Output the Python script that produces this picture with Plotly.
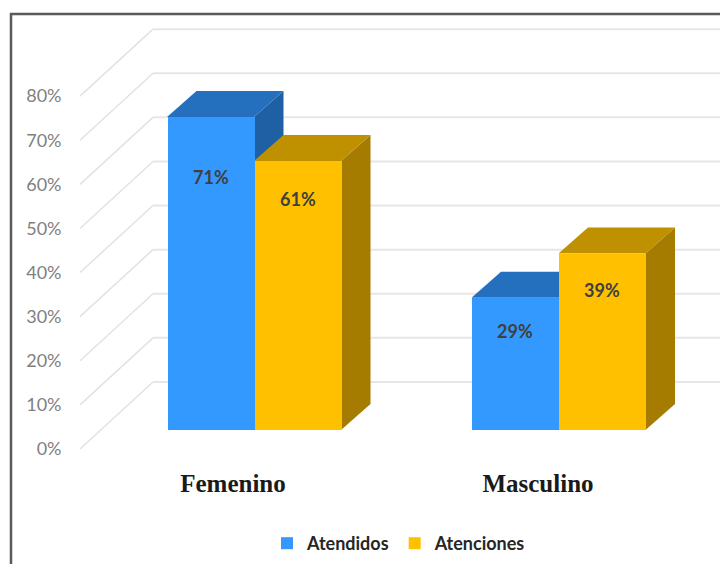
import plotly.graph_objects as go

# Data
categories = ["Femenino", "Masculino"]
atendidos_heights = [71, 30]      # heights as drawn in the picture
atenciones_heights = [61, 40]
atendidos_labels = ["71%", "29%"]
atenciones_labels = ["61%", "39%"]
tick_values = [0, 10, 20, 30, 40, 50, 60, 70, 80]
tick_labels = ["0%", "10%", "20%", "30%", "40%", "50%", "60%", "70%", "80%"]

# Layout / styling
W, H = 720, 564
PX_PER_PCT = 4.41
BASE_PX = 430
GROUP_CENTERS = [254, 558.5]
LABEL_CENTERS = [233, 538]
BAR_W = 87
DEPTH_X = 29.5
DEPTH_Y = 26 / PX_PER_PCT
FRONT_SHIFT = -4.3
BACK_SHIFT = 10.9
LEFT = 62.5
BOTTOM_PX = 465
XR = [LEFT, W]
YR = [(BASE_PX - BOTTOM_PX) / PX_PER_PCT, BASE_PX / PX_PER_PCT]
DOM_X = [LEFT / W, 1]
DOM_Y = [(H - BOTTOM_PX) / H, 1]
BLUE = ("#3399FF", "#2470BF", "#1F5FA3")
GOLD = ("#FFC000", "#BF9000", "#A67C00")
LABEL_DROP_A = [60, 33]
LABEL_DROP_B = [38, 36]
FONT = "Lato"

fig = go.Figure()


def poly(xs, ys, color):
    fig.add_trace(go.Scatter(x=xs, y=ys, mode="lines", fill="toself", fillcolor=color,
                             line=dict(width=0, color=color), showlegend=False,
                             hoverinfo="skip", xaxis="x", yaxis="y"))


def solid(left, v, colors):
    r = left + BAR_W
    poly([r, r + DEPTH_X, r + DEPTH_X, r], [0, DEPTH_Y, v + DEPTH_Y, v], colors[2])
    poly([left, left + DEPTH_X, r + DEPTH_X, r], [v, v + DEPTH_Y, v + DEPTH_Y, v], colors[1])


for i, c in enumerate(GROUP_CENTERS):
    solid(c - BAR_W, atendidos_heights[i], BLUE)
    solid(c, atenciones_heights[i], GOLD)

fig.add_trace(go.Bar(name="Atendidos", x=[c - BAR_W / 2 for c in GROUP_CENTERS], y=atendidos_heights,
                     width=BAR_W, marker=dict(color=BLUE[0], line=dict(width=0)),
                     xaxis="x2", yaxis="y2"))
fig.add_trace(go.Bar(name="Atenciones", x=[c + BAR_W / 2 for c in GROUP_CENTERS], y=atenciones_heights,
                     width=BAR_W, marker=dict(color=GOLD[0], line=dict(width=0)),
                     xaxis="x2", yaxis="y2"))

shapes = []
for t in tick_values:
    shapes.append(dict(type="line", layer="below", xref="x", yref="y", x0=80, x1=153,
                       y0=t + FRONT_SHIFT, y1=t + BACK_SHIFT, line=dict(color="#e2e2e2", width=1.5)))
    shapes.append(dict(type="line", layer="below", xref="x", yref="y", x0=153, x1=W,
                       y0=t + BACK_SHIFT, y1=t + BACK_SHIFT, line=dict(color="#e6e6e6", width=2)))
shapes.append(dict(type="line", xref="paper", yref="paper", x0=11 / W, x1=11 / W, y0=0, y1=1 - 13 / H,
                   line=dict(color="#5a5a5a", width=2.5)))
shapes.append(dict(type="line", xref="paper", yref="paper", x0=10 / W, x1=1, y0=1 - 14 / H, y1=1 - 14 / H,
                   line=dict(color="#5a5a5a", width=2.5)))

annotations = []
for i, c in enumerate(GROUP_CENTERS):
    for xc, v, txt, drop in [
        (c - BAR_W / 2, atendidos_heights[i], atendidos_labels[i], LABEL_DROP_A[i]),
        (c + BAR_W / 2, atenciones_heights[i], atenciones_labels[i], LABEL_DROP_B[i]),
    ]:
        annotations.append(dict(x=xc, y=v, xref="x2", yref="y2", yshift=-drop, text=txt, showarrow=False,
                                font=dict(family=FONT, size=18, color="#404040", weight="bold")))

fig.update_layout(
    width=W, height=H, autosize=False, margin=dict(l=0, r=0, t=0, b=0),
    paper_bgcolor="white", plot_bgcolor="white", barmode="overlay", bargap=0,
    shapes=shapes, annotations=annotations,
    font=dict(family=FONT),
    legend=dict(orientation="h", x=399 / W, xanchor="center", y=2 / H, yanchor="bottom",
                font=dict(family=FONT, size=18, color="#262626", weight="bold"),
                bgcolor="rgba(0,0,0,0)", itemwidth=30),
    xaxis=dict(domain=DOM_X, range=XR, showgrid=False, zeroline=False, showline=False,
               tickmode="array", tickvals=LABEL_CENTERS, ticktext=categories, ticks="",
               ticklabelstandoff=1,
               tickfont=dict(family="Liberation Serif", size=25, color="#1a1a1a", weight="bold")),
    yaxis=dict(domain=DOM_Y, range=YR, showgrid=False, zeroline=False, showline=False,
               tickmode="array", tickvals=[t + FRONT_SHIFT for t in tick_values], ticktext=tick_labels,
               ticks="", tickfont=dict(family=FONT, size=18, color="#7f7f7f")),
    xaxis2=dict(domain=DOM_X, range=XR, overlaying="x", visible=False),
    yaxis2=dict(domain=DOM_Y, range=YR, overlaying="y", visible=False),
)

fig.write_html("out.html", post_script="document.body.style.margin='0';",
               config={"displayModeBar": False})
